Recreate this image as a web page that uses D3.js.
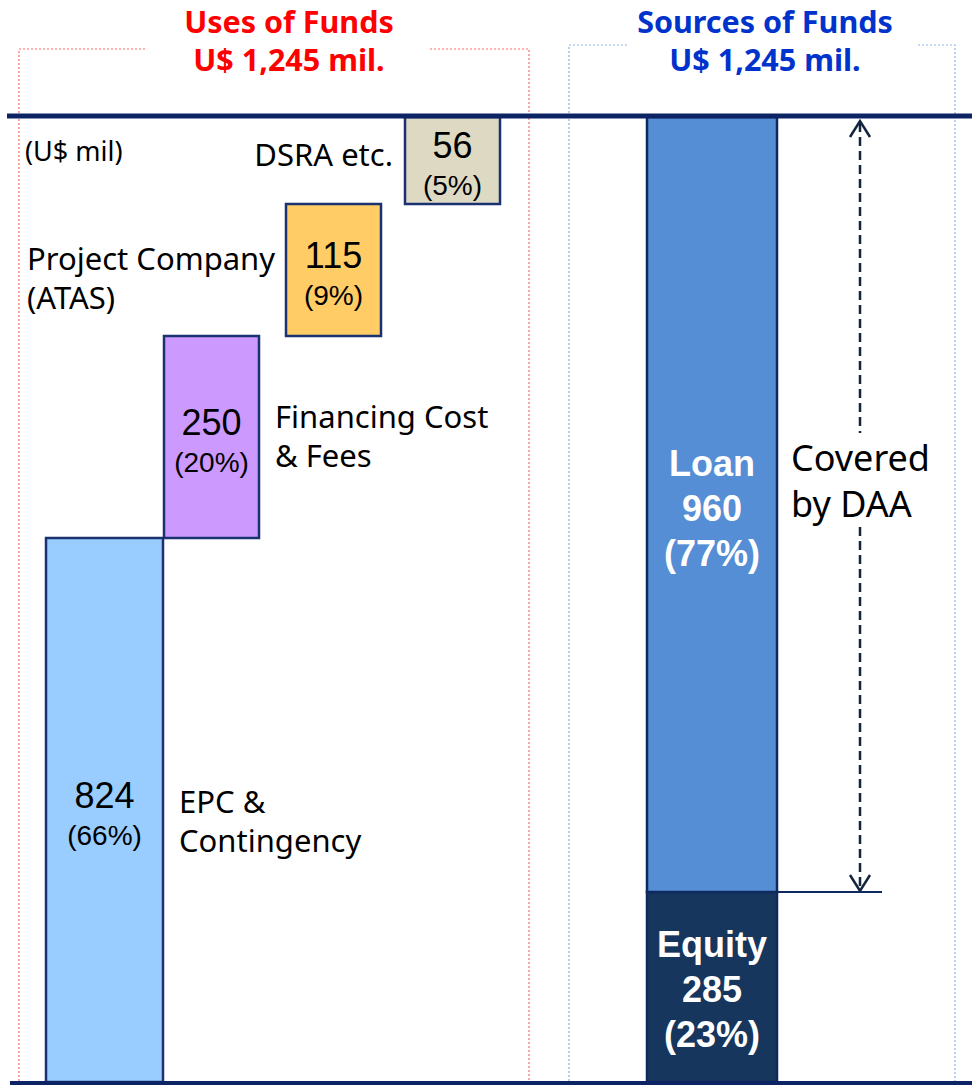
<!DOCTYPE html>
<html>
<head>
<meta charset="utf-8">
<script src="https://cdn.jsdelivr.net/npm/d3@7"></script>
<style>
  body { margin: 0; background: #fff; }
  svg { display: block; }
</style>
</head>
<body>
<div id="chart"></div>
<script>
// values (U$ mil)
var totalFunds = 1245;
var useCategories = ["EPC & Contingency", "Financing Cost & Fees", "Project Company (ATAS)", "DSRA etc."];
var useValues = [824, 250, 115, 56];
var usePercents = ["66%", "20%", "9%", "5%"];
var useLabelLines = [["EPC &", "Contingency"], ["Financing Cost", "& Fees"], ["Project Company", "(ATAS)"], ["DSRA etc."]];
var sourceCategories = ["Equity", "Loan"];
var sourceValues = [285, 960];
var sourcePercents = ["23%", "77%"];
var coverNote = ["Covered", "by DAA"];

var w = 972, h = 1085;
var navy = "#0c2463";
var uiFont = "'Noto Sans', 'Open Sans', sans-serif";
var numFont = "'Liberation Sans', Arial, sans-serif";

var svg = d3.select('#chart').append('svg')
    .attr("width", w)
    .attr("height", h);

// stack the values (waterfall for uses, plain stack for sources)
var useStart = d3.cumsum([0].concat(useValues)).slice(0, useValues.length);
var uses = useCategories.map(function(c, i) {
    return { cat: c, value: useValues[i], pct: usePercents[i], lines: useLabelLines[i], y0: useStart[i], y1: useStart[i] + useValues[i] };
});
var srcStart = d3.cumsum([0].concat(sourceValues)).slice(0, sourceValues.length);
var sources = sourceCategories.map(function(c, i) {
    return { cat: c, value: sourceValues[i], pct: sourcePercents[i], y0: srcStart[i], y1: srcStart[i] + sourceValues[i] };
});

// the slide is not drawn to scale, so the value axis is piecewise linear
var breaks = Array.from(new Set([0].concat(uses.map(function(d) { return d.y1; }), sources.map(function(d) { return d.y1; })))).sort(d3.ascending);
var y = d3.scaleLinear()
    .domain(breaks)                       // 0, 285, 824, 1074, 1189, 1245
    .range([1082, 892, 538, 336, 204, 117]);

var xUse = d3.scaleOrdinal().domain(useCategories).range([46, 164, 286, 405]);
var wUse = d3.scaleOrdinal().domain(useCategories).range([117, 95, 95, 95]);
var labelSide = d3.scaleOrdinal().domain(useCategories).range(["right", "right", "left", "left"]);
var labelShift = d3.scaleOrdinal().domain(useCategories).range([12, 0, 9, -5]);
var useFill = d3.scaleOrdinal().domain(useCategories).range(["#99ccff", "#cc99ff", "#ffcc66", "#ddd9c3"]);
var srcFill = d3.scaleOrdinal().domain(sourceCategories).range(["#17365d", "#558ed5"]);
var srcX = 647, srcW = 130;

// dotted frames with the titles
function frame(x0, x1, top, gapA, gapB, color) {
    var p = "M" + gapA + "," + top + "H" + x0 + "V" + h + "M" + gapB + "," + top + "H" + x1 + "V" + h;
    svg.append("path").attr("d", p)
        .attr("fill", "none")
        .attr("stroke", color)
        .attr("stroke-width", 1.2)
        .attr("stroke-dasharray", "2,2");
}
frame(19, 529, 49, 145, 430, "#ff6b6b");
frame(569, 955, 45, 627, 918, "#8db3e2");

function title(cx, color, lines) {
    svg.append("g").selectAll("text")
        .data(lines)
        .enter().append("text")
        .attr("x", cx)
        .attr("y", function(d, i) { return 33 + i * 38; })
        .attr("text-anchor", "middle")
        .attr("font-family", uiFont)
        .attr("font-weight", "bold")
        .attr("font-size", "30.5px")
        .attr("fill", color)
        .text(function(d) { return d; });
}
var totalText = "U$ " + d3.format(",")(totalFunds) + " mil.";
title(289, "#ff0000", ["Uses of Funds", totalText]);
title(765, "#0033cc", ["Sources of Funds", totalText]);

svg.append("text")
    .attr("x", 25).attr("y", 152)
    .attr("dy", ".35em")
    .attr("font-family", uiFont)
    .attr("font-size", "27px")
    .attr("fill", "#000")
    .text("(U$ mil)");

// uses bars
var useG = svg.append("g");
useG.selectAll("rect")
    .data(uses)
    .enter().append("rect")
    .attr("x", function(d) { return xUse(d.cat); })
    .attr("y", function(d) { return y(d.y1); })
    .attr("width", function(d) { return wUse(d.cat); })
    .attr("height", function(d) { return y(d.y0) - y(d.y1); })
    .attr("fill", function(d) { return useFill(d.cat); })
    .attr("stroke", "#1a3270")
    .attr("stroke-width", 2.5);

var useText = useG.selectAll("g.lbl")
    .data(uses)
    .enter().append("g").attr("class", "lbl")
    .attr("transform", function(d) {
        return "translate(" + (xUse(d.cat) + wUse(d.cat) / 2) + "," + ((y(d.y0) + y(d.y1)) / 2) + ")";
    });
useText.append("text")
    .attr("y", -15)
    .attr("dy", ".35em")
    .attr("text-anchor", "middle")
    .attr("font-family", numFont)
    .attr("font-size", "36px")
    .text(function(d) { return d.value; });
useText.append("text")
    .attr("y", 25)
    .attr("dy", ".35em")
    .attr("text-anchor", "middle")
    .attr("font-family", numFont)
    .attr("font-size", "28px")
    .text(function(d) { return "(" + d.pct + ")"; });

// category names beside each bar
useG.selectAll("text.cat")
    .data(uses)
    .enter().append("text").attr("class", "cat")
    .attr("font-family", uiFont)
    .attr("font-size", "31px")
    .attr("fill", "#000")
    .each(function(d) {
        var right = labelSide(d.cat) === "right";
        var x0 = right ? xUse(d.cat) + wUse(d.cat) + 16 : (d.lines.length > 1 ? 27 : xUse(d.cat) - 12);
        var cy = (y(d.y0) + y(d.y1)) / 2 + labelShift(d.cat);
        var t = d3.select(this)
            .attr("text-anchor", right || d.lines.length > 1 ? "start" : "end");
        t.selectAll("tspan")
            .data(d.lines)
            .enter().append("tspan")
            .attr("x", x0)
            .attr("y", function(l, i) { return cy + (i - (d.lines.length - 1) / 2) * 39; })
            .attr("dy", ".35em")
            .text(function(l) { return l; });
    });

// sources bars
var srcG = svg.append("g");
srcG.selectAll("rect")
    .data(sources)
    .enter().append("rect")
    .attr("x", srcX)
    .attr("y", function(d) { return y(d.y1); })
    .attr("width", srcW)
    .attr("height", function(d) { return y(d.y0) - y(d.y1); })
    .attr("fill", function(d) { return srcFill(d.cat); })
    .attr("stroke", "#0f2a5e")
    .attr("stroke-width", 2.5);

srcG.selectAll("text")
    .data(sources)
    .enter().append("text")
    .attr("text-anchor", "middle")
    .attr("font-family", numFont)
    .attr("font-weight", "bold")
    .attr("font-size", "36px")
    .attr("fill", "#fff")
    .each(function(d) {
        var cy = (y(d.y0) + y(d.y1)) / 2 + 2;
        if (d.cat === "Loan") cy = y(d.y1) + (y(d.y0) - y(d.y1)) * 0.505;
        d3.select(this).selectAll("tspan")
            .data([d.cat, d.value, "(" + d.pct + ")"])
            .enter().append("tspan")
            .attr("x", srcX + srcW / 2)
            .attr("y", function(l, i) { return cy + (i - 1) * 45; })
            .attr("dy", ".35em")
            .text(function(l) { return l; });
    });

// top and bottom rules
svg.append("line")
    .attr("x1", 7).attr("x2", w)
    .attr("y1", y(totalFunds) - 1).attr("y2", y(totalFunds) - 1)
    .attr("stroke", navy).attr("stroke-width", 5);
svg.append("line")
    .attr("x1", 10).attr("x2", w)
    .attr("y1", y(0) + 1).attr("y2", y(0) + 1)
    .attr("stroke", navy).attr("stroke-width", 4);

// DAA bracket: dashed double arrow over the loan
var loan = sources[1];
var ax = 860, aTop = y(loan.y1) + 4, aBot = y(loan.y0);
var gapTop = 433, gapBot = 527;
var arrow = svg.append("g")
    .attr("stroke", "#14243f")
    .attr("stroke-width", 2.5)
    .attr("fill", "none");
arrow.append("path")
    .attr("d", "M" + ax + "," + (aTop + 2) + "V" + gapTop + "M" + ax + "," + gapBot + "V" + (aBot - 2))
    .attr("stroke-dasharray", "9,5");
arrow.append("path")
    .attr("d", "M" + (ax - 10) + "," + (aTop + 16) + "L" + ax + "," + aTop + "L" + (ax + 10) + "," + (aTop + 16));
arrow.append("path")
    .attr("d", "M" + (ax - 10) + "," + (aBot - 17) + "L" + ax + "," + (aBot - 1) + "L" + (ax + 10) + "," + (aBot - 17));
svg.append("line")
    .attr("x1", srcX + srcW).attr("x2", 882)
    .attr("y1", aBot).attr("y2", aBot)
    .attr("stroke", "#0f2a5e").attr("stroke-width", 2);

svg.append("text")
    .attr("font-family", uiFont)
    .attr("font-size", "36px")
    .attr("fill", "#000")
    .selectAll("tspan")
    .data(coverNote)
    .enter().append("tspan")
    .attr("x", 791)
    .attr("y", function(d, i) { return 458 + i * 46; })
    .attr("dy", ".35em")
    .text(function(d) { return d; });
</script>
</body>
</html>
